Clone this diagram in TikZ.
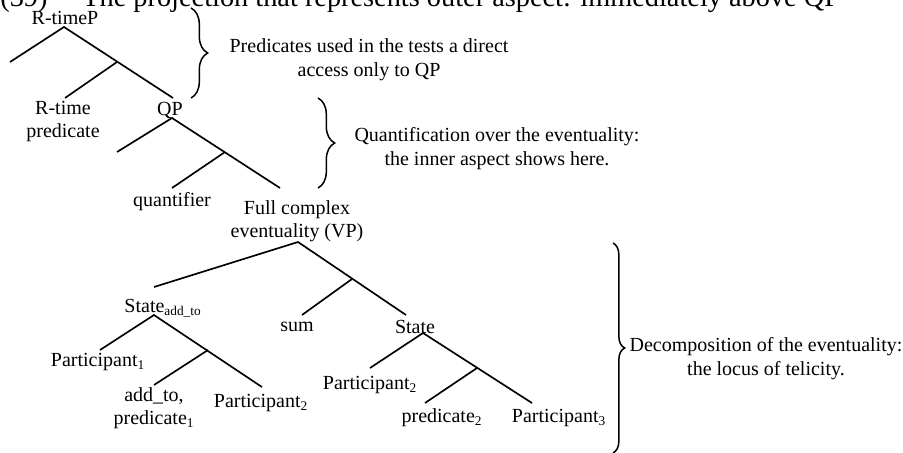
\documentclass[tikz,border=0pt]{standalone}
\usepackage{fontspec}
\setmainfont{Liberation Serif}
\usetikzlibrary{decorations.pathreplacing}

\tikzset{
  lbl/.style={font=\fontsize{12}{13.8}\selectfont, align=center, inner sep=0pt},
  note/.style={font=\fontsize{12}{14.5}\selectfont, align=center, inner sep=0pt},
  branch/.style={line width=1pt},
  cbrace/.style={line width=0.9pt, decorate, decoration={brace, amplitude=#1}},
}

\begin{document}
\begin{tikzpicture}[x=0.6pt, y=-0.6pt]
  \useasboundingbox (0,0) rectangle (903,452);
  % Heading, cut off by the top edge
  \node[font=\fontsize{17}{19}\selectfont, anchor=base west, inner sep=0pt] (head) at (0,7)
    {\makebox[49.2pt][l]{(39)}The projection that represents outer aspect: immediately above QP};

  % R-timeP tree
  \node[lbl] (rtp) at (65,18) {R-timeP};
  \coordinate (rtTop) at (64,27);
  \coordinate (rtL) at (10,62);
  \coordinate (rtMid) at (117,62);
  \coordinate (rtPredEnd) at (65,98);
  \coordinate (rtQPEnd) at (173,98);
  \draw[branch] (rtL) -- (rtTop) -- (rtQPEnd);
  \draw[branch] (rtMid) -- (rtPredEnd);
  \node[lbl] (rtpred) at (63,122) {R-time\\predicate};
  \node[lbl] (qp) at (170,110) {QP};

  % QP tree
  \coordinate (qpTop) at (172,118);
  \coordinate (qpL) at (117,152);
  \coordinate (qpMid) at (225,152);
  \coordinate (qpQuantEnd) at (172,188);
  \coordinate (qpVPEnd) at (280,188);
  \draw[branch] (qpL) -- (qpTop) -- (qpVPEnd);
  \draw[branch] (qpMid) -- (qpQuantEnd);
  \node[lbl] (quant) at (172,202) {quantifier};
  \node[lbl] (vp) at (297,221) {Full complex\\eventuality (VP)};

  % VP tree
  \coordinate (vpTop) at (298,242);
  \coordinate (vpL) at (154,287);
  \coordinate (vpMid) at (352,279);
  \coordinate (vpSumEnd) at (302,315);
  \coordinate (vpStEnd) at (406,315);
  \draw[branch] (vpL) -- (vpTop) -- (vpStEnd);
  \draw[branch] (vpMid) -- (vpSumEnd);
  \node[lbl] (stadd) at (163,308) {State\textsubscript{add\_to}};
  \node[lbl] (sum) at (297,327) {sum};
  \node[lbl] (st) at (415,327) {State};

  % State_add_to subtree
  \coordinate (saTop) at (154,315);
  \coordinate (saL) at (100,350);
  \coordinate (saMid) at (208,350);
  \coordinate (saPredEnd) at (154,385);
  \coordinate (saPartEnd) at (262,387);
  \draw[branch] (saL) -- (saTop) -- (saPartEnd);
  \draw[branch] (saMid) -- (saPredEnd);
  \node[lbl] (partA) at (98,362) {Participant\textsubscript{1}};
  \node[lbl] (predA) at (154,408) {add\_to,\\predicate\textsubscript{1}};
  \node[lbl] (partB) at (261,403) {Participant\textsubscript{2}};

  % State subtree
  \coordinate (sTop) at (423,333);
  \coordinate (sL) at (370,368);
  \coordinate (sMid) at (477,368);
  \coordinate (sPredEnd) at (425,403);
  \coordinate (sPartEnd) at (532,403);
  \draw[branch] (sL) -- (sTop) -- (sPartEnd);
  \draw[branch] (sMid) -- (sPredEnd);
  \node[lbl] (partC) at (370,385) {Participant\textsubscript{2}};
  \node[lbl] (predB) at (442,418) {predicate\textsubscript{2}};
  \node[lbl] (partD) at (559,418) {Participant\textsubscript{3}};

  % Braces and comments
  \coordinate (b1Top) at (191,8);
  \coordinate (b1Bot) at (191,98);
  \draw[cbrace=10pt] (b1Top) -- (b1Bot);
  \node[note] (noteA) at (369,60) {Predicates used in the tests a direct\\access only to QP};
  \coordinate (b2Top) at (318,98);
  \coordinate (b2Bot) at (318,188);
  \draw[cbrace=10pt] (b2Top) -- (b2Bot);
  \node[note] (noteB) at (497,149) {Quantification over the eventuality:\\the inner aspect shows here.};
  \coordinate (b3Top) at (613,243);
  \coordinate (b3Bot) at (613,453);
  \draw[cbrace=7pt] (b3Top) -- (b3Bot);
  \node[note] (noteC) at (766,359) {Decomposition of the eventuality:\\the locus of telicity.};
\end{tikzpicture}
\end{document}
